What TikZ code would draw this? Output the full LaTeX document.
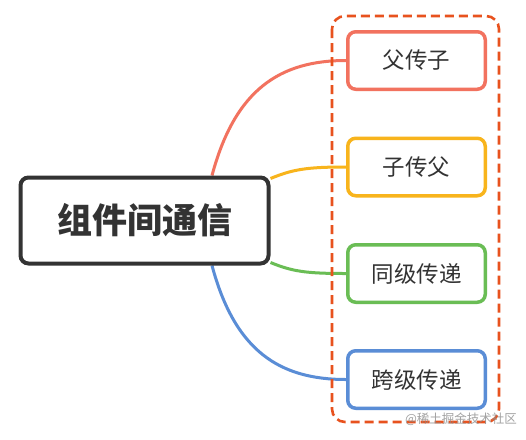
\documentclass[tikz,border=0pt]{standalone}
\usepackage{fontspec}
\newfontfamily\cjk{Noto Sans CJK SC}
\newfontfamily\cjkbold{Noto Sans CJK SC Black}
\usetikzlibrary{backgrounds}
\definecolor{cred}{HTML}{F2725F}
\definecolor{cyellow}{HTML}{F8B41C}
\definecolor{cgreen}{HTML}{6ABD55}
\definecolor{cblue}{HTML}{5A8DD6}
\definecolor{cdash}{HTML}{E8521E}
\definecolor{ctext}{HTML}{333333}
\tikzset{
  mainbox/.style={draw=ctext, line width=4pt, rounded corners=8pt, fill=white,
    minimum width=248pt, minimum height=86pt, inner sep=0pt,
    font=\cjkbold\fontsize{35}{40}\selectfont, text=ctext},
  childbox/.style={line width=3.5pt, rounded corners=8pt, fill=white,
    minimum width=137.5pt, minimum height=57.5pt, inner sep=0pt,
    font=\cjk\fontsize{22.5}{26}\selectfont, text=ctext},
  link/.style={line width=3pt},
  groupbox/.style={draw=cdash, line width=2.6pt, rounded corners=13pt, dash pattern=on 9pt off 5pt}
}
\begin{document}
\begin{tikzpicture}[x=1pt,y=-1pt]
\useasboundingbox (0,0) rectangle (526,439);
\node[mainbox] (main) at (144.5,220.5) {组件间通信};
\node[childbox, draw=cred] (c1) at (416.5,60.5) {父传子};
\node[childbox, draw=cyellow] (c2) at (416.5,167) {子传父};
\node[childbox, draw=cgreen] (c3) at (416.5,273.5) {同级传递};
\node[childbox, draw=cblue] (c4) at (416.5,379.5) {跨级传递};
\begin{pgfonlayer}{background}
\fill[white] (0,0) rectangle (526,439);
\draw[link, cred] ([xshift=67.5pt]main.north) .. controls +(23,-86) and +(-66,0) .. (c1.west);
\draw[link, cyellow] ([yshift=-3pt]main.north east) .. controls +(22,-9) and +(-40,0) .. (c2.west);
\draw[link, cgreen] ([yshift=3pt]main.south east) .. controls +(22,9) and +(-40,0) .. (c3.west);
\draw[link, cblue] ([xshift=67.5pt]main.south) .. controls +(23,86) and +(-66,0) .. (c4.west);
\end{pgfonlayer}
\draw[groupbox] ([xshift=-14pt,yshift=14pt]c1.north west) rectangle ([xshift=12pt,yshift=-12pt]c4.south east);
\node[font=\cjk\fontsize{12.5}{14}\selectfont, text=black!45, opacity=0.8, inner sep=0pt] (wm) at (461,419) {@稀土掘金技术社区};
\end{tikzpicture}
\end{document}
